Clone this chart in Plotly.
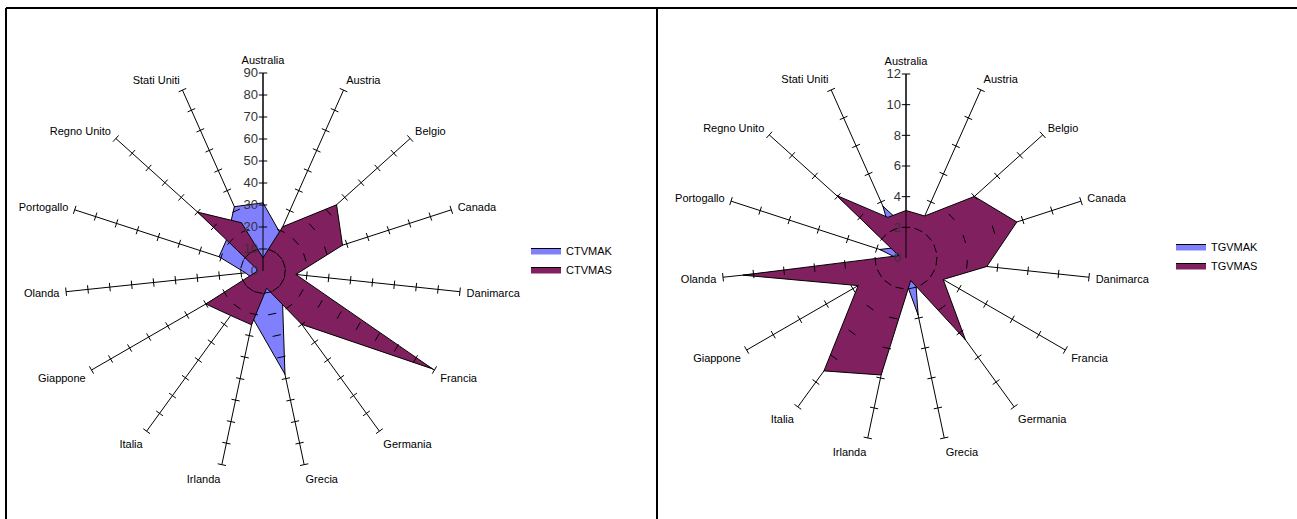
import plotly.graph_objects as go

categories = ["Australia", "Austria", "Belgio", "Canada", "Danimarca", "Francia", "Germania",
              "Grecia", "Irlanda", "Italia", "Giappone", "Olanda", "Portogallo", "Regno Unito",
              "Stati Uniti"]

ctvmak = [31, 19, 12, 10, 8, 12, 15, 48, 22, 8, 6, 8, 21, 22, 32]
ctvmas = [6, 22, 45, 38, 15, 89, 30, 8, 25, 25, 30, 3, 3, 40, 24]

tgvmak = [2, 1, 0.8, 0.8, 0.5, 0.8, 1, 3.8, 1, 0.8, 0.5, 0.5, 1.8, 1, 3.7]
tgvmas = [3.1, 3, 6, 7.6, 5.3, 2.8, 6.6, 1.5, 7.8, 9.1, 3.6, 10.7, 0.5, 6.1, 2.9]

left_ticks = [0, 10, 20, 30, 40, 50, 60, 70, 80, 90]
right_ticks = [0, 2, 4, 6, 8, 10, 12]

BLUE = "#8080FF"
MAROON = "#80205F"
FONT = "Liberation Sans"

W, H = 1297, 519

fig = go.Figure()


def closed(vals):
    return list(vals) + [vals[0]]


def add_radar(subplot, legend, names, series, colors):
    for name, vals, col in zip(names, series, colors):
        fig.add_trace(go.Scatterpolar(
            r=closed(vals), theta=closed(categories), mode="lines", fill="toself",
            fillcolor=col, line=dict(color="black", width=1), name=name,
            subplot=subplot, legend=legend, hoverinfo="skip"))


def add_spoke_ticks(subplot, ticks):
    n = len(categories)
    rr, tt, aa = [], [], []
    for i, c in enumerate(categories):
        for t in ticks[1:]:
            rr.append(t)
            tt.append(c)
            aa.append(i * 360.0 / n)
    fig.add_trace(go.Scatterpolar(
        r=rr, theta=tt, mode="markers",
        marker=dict(symbol="line-ew", size=6, angle=aa,
                    line=dict(color="black", width=1)),
        subplot=subplot, showlegend=False, hoverinfo="skip"))


add_radar("polar", "legend", ["CTVMAK", "CTVMAS"], [ctvmak, ctvmas], [BLUE, MAROON])
add_spoke_ticks("polar", left_ticks)
add_radar("polar2", "legend2", ["TGVMAK", "TGVMAS"], [tgvmak, tgvmas], [BLUE, MAROON])
add_spoke_ticks("polar2", right_ticks)


def dom(cx, cy, R):
    return dict(x=[(cx - R) / W, (cx + R) / W], y=[1 - (cy + R) / H, 1 - (cy - R) / H])


def polar_layout(cx, cy, R, ticks):
    return dict(
        domain=dom(cx, cy, R),
        bgcolor="white",
        radialaxis=dict(range=[0, ticks[-1]], tickvals=ticks, showgrid=False,
                        showline=True, linecolor="black", linewidth=1, ticks="",
                        angle=90, tickangle=90, side="counterclockwise",
                        tickfont=dict(family=FONT, size=13, color="#333")),
        angularaxis=dict(type="category", categoryarray=categories, rotation=90,
                         direction="clockwise", showline=False, gridcolor="black",
                         gridwidth=1, ticks="outside", ticklen=4,
                         tickcolor="rgba(0,0,0,0)",
                         tickfont=dict(family=FONT, size=11, color="black")),
    )


fig.update_layout(
    width=W, height=H, margin=dict(l=0, r=0, t=0, b=0),
    paper_bgcolor="white", plot_bgcolor="white",
    font=dict(family=FONT, size=11, color="black"),
    polar=polar_layout(263, 271, 198, left_ticks),
    polar2=polar_layout(906, 258, 184, right_ticks),
    legend=dict(x=526 / W, y=1 - 236 / H, xanchor="left", yanchor="top",
                font=dict(family=FONT, size=11), bgcolor="rgba(0,0,0,0)",
                itemwidth=30, tracegroupgap=2),
    legend2=dict(x=1171 / W, y=1 - 232 / H, xanchor="left", yanchor="top",
                 font=dict(family=FONT, size=11), bgcolor="rgba(0,0,0,0)",
                 itemwidth=30, tracegroupgap=2),
    shapes=[
        dict(type="line", xref="paper", yref="paper", x0=6 / W, x1=1, y0=1 - 8 / H, y1=1 - 8 / H,
             line=dict(color="black", width=2)),
        dict(type="line", xref="paper", yref="paper", x0=6 / W, x1=6 / W, y0=0, y1=1 - 8 / H,
             line=dict(color="black", width=2)),
        dict(type="line", xref="paper", yref="paper", x0=657 / W, x1=657 / W, y0=0, y1=1 - 8 / H,
             line=dict(color="black", width=2)),
    ],
)

fig.write_html("out.html", config={"displayModeBar": False},
               post_script="document.body.style.margin='0px';")
